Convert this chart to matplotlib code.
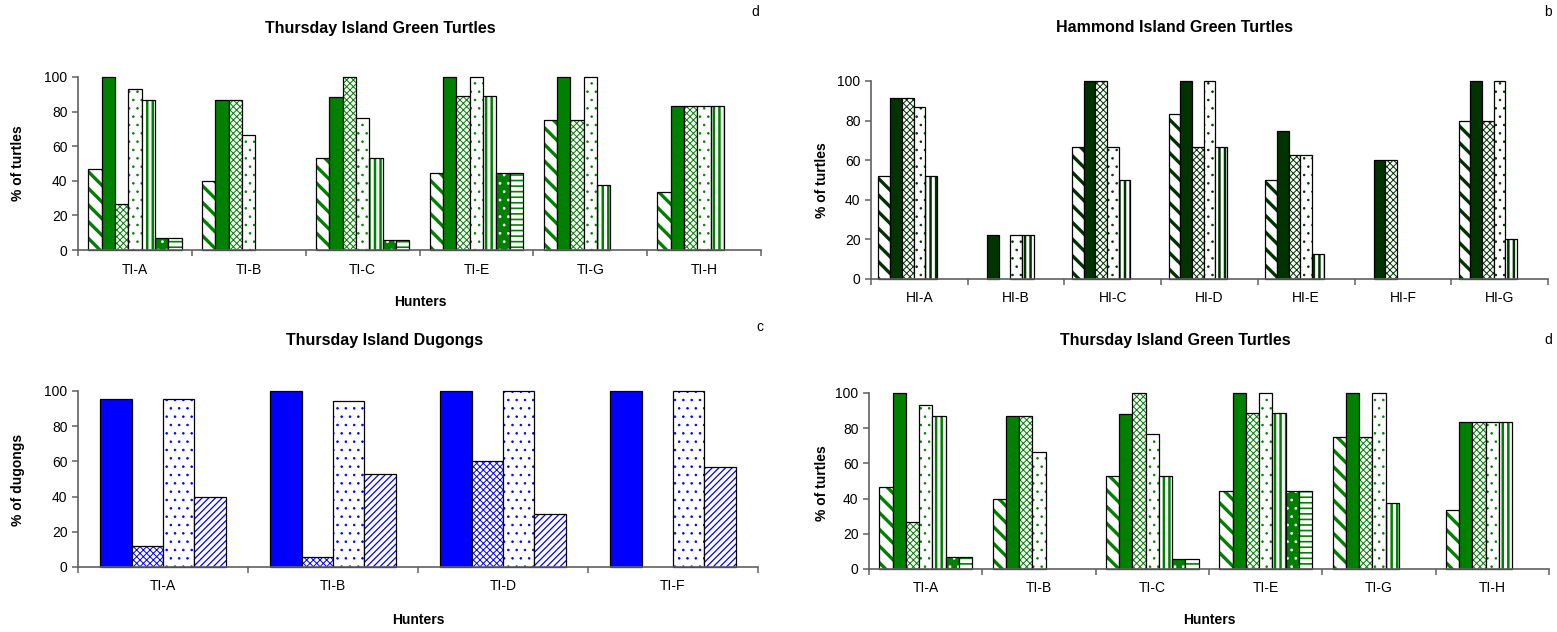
import numpy as np
import matplotlib.pyplot as plt

plt.rcParams['font.family'] = ['Liberation Sans', 'DejaVu Sans']

# Thursday Island green turtles, 7 series per hunter
ti_hunters = ['TI-A', 'TI-B', 'TI-C', 'TI-E', 'TI-G', 'TI-H']
ti_s1 = [46.7, 40, 52.9, 44.4, 75, 33.3]
ti_s2 = [100, 86.7, 88.2, 100, 100, 83.3]
ti_s3 = [26.7, 86.7, 100, 88.9, 75, 83.3]
ti_s4 = [93.3, 66.7, 76.5, 100, 100, 83.3]
ti_s5 = [86.7, 0, 52.9, 88.9, 37.5, 83.3]
ti_s6 = [6.7, 0, 5.9, 44.4, 0, 0]
ti_s7 = [6.7, 0, 5.9, 44.4, 0, 0]

# Hammond Island green turtles
hi_hunters = ['HI-A', 'HI-B', 'HI-C', 'HI-D', 'HI-E', 'HI-F', 'HI-G']
hi_s1 = [52.2, 0, 66.7, 83.3, 50, 0, 80]
hi_s2 = [91.3, 22.2, 100, 100, 75, 60, 100]
hi_s3 = [91.3, 0, 100, 66.7, 62.5, 60, 80]
hi_s4 = [87, 22.2, 66.7, 100, 62.5, 0, 100]
hi_s5 = [52.2, 22.2, 50, 66.7, 12.5, 0, 20]
hi_s6 = [0, 0, 0, 0, 0, 0, 0]
hi_s7 = [0, 0, 0, 0, 0, 0, 0]

# Thursday Island dugongs
du_hunters = ['TI-A', 'TI-B', 'TI-D', 'TI-F']
du_s1 = [95.7, 100, 100, 100]
du_s2 = [12.2, 5.9, 60, 0]
du_s3 = [95.7, 94.1, 100, 100]
du_s4 = [40, 52.9, 30, 57.1]

W, H = 1557, 632
G = '#008000'
DG = '#003300'
B = '#0000ff'
AXC = '#606060'

fig = plt.figure(figsize=(W / 100, H / 100), dpi=100)


def px_axes(x0, x1, ytop, ybot):
    return fig.add_axes([x0 / W, 1 - ybot / H, (x1 - x0) / W, (ybot - ytop) / H])


def px_text(x, y, s, **kw):
    fig.text(x / W, 1 - y / H, s, ha='center', va='center', **kw)


def turtle_styles(c):
    return [
        dict(face='white', hatch='\\\\', hc=c, hlw=2.4),
        dict(face=c, hatch=None, hc=c, hlw=1),
        dict(face='white', hatch='xxxxx', hc=c, hlw=0.7),
        dict(face='white', hatch='..', hc=c, hlw=0.6),
        dict(face='white', hatch='|||', hc=c, hlw=1.8),
        dict(face=c, hatch='..', hc='white', hlw=0.8),
        dict(face='white', hatch='---', hc=c, hlw=1.2),
    ]


dugong_styles = [
    dict(face=B, hatch=None, hc=B, hlw=1),
    dict(face='white', hatch='xxxxx', hc=B, hlw=0.7),
    dict(face='white', hatch='..', hc=B, hlw=0.6),
    dict(face='white', hatch='/////', hc=B, hlw=0.9),
]


def draw_bars(ax, series, styles, bw):
    n = len(series)
    for i, (vals, st) in enumerate(zip(series, styles)):
        v = np.asarray(vals, dtype=float)
        x = np.arange(len(v)) + 0.5 + (i - (n - 1) / 2) * bw
        keep = v > 0
        with plt.rc_context({'hatch.linewidth': st['hlw']}):
            bars = ax.bar(x[keep], v[keep], bw, color=st['face'], edgecolor=st['hc'],
                          hatch=st['hatch'], linewidth=0, clip_on=False)
            for b in bars:
                if hasattr(b, 'set_hatch_linewidth'):
                    b.set_hatch_linewidth(st['hlw'])
        ax.bar(x[keep], v[keep], bw, fill=False, edgecolor='black', linewidth=0.9, clip_on=False)


def style_axes(ax, labels):
    n = len(labels)
    ax.set_xlim(0, n)
    ax.set_ylim(0, 100)
    for s in ['top', 'right']:
        ax.spines[s].set_visible(False)
    for s in ['left', 'bottom']:
        ax.spines[s].set_color(AXC)
        ax.spines[s].set_linewidth(1.2)
    ax.set_yticks(range(0, 101, 20))
    ax.set_xticks(np.arange(n + 1))
    ax.set_xticklabels([])
    ax.set_xticks(np.arange(n) + 0.5, minor=True)
    ax.set_xticklabels(labels, minor=True)
    ax.tick_params(axis='both', which='major', length=4, width=1.1, color=AXC, labelsize=10)
    ax.tick_params(axis='x', which='minor', length=0, pad=9, labelsize=10)
    ax.set_facecolor('none')


# top left: Thursday Island green turtles
ax1 = px_axes(78, 761, 77, 250)
draw_bars(ax1, [ti_s1, ti_s2, ti_s3, ti_s4, ti_s5, ti_s6, ti_s7], turtle_styles(G), 0.117)
style_axes(ax1, ti_hunters)

# top right: Hammond Island green turtles
ax2 = px_axes(871, 1548, 81, 279)
draw_bars(ax2, [hi_s1, hi_s2, hi_s3, hi_s4, hi_s5, hi_s6, hi_s7], turtle_styles(DG), 0.121)
style_axes(ax2, hi_hunters)

# bottom left: Thursday Island dugongs
ax3 = px_axes(78, 758, 391, 567)
draw_bars(ax3, [du_s1, du_s2, du_s3, du_s4], dugong_styles, 0.184)
style_axes(ax3, du_hunters)

# bottom right: Thursday Island green turtles (again)
ax4 = px_axes(869, 1549, 393, 569)
draw_bars(ax4, [ti_s1, ti_s2, ti_s3, ti_s4, ti_s5, ti_s6, ti_s7], turtle_styles(G), 0.117)
style_axes(ax4, ti_hunters)

tkw = dict(fontsize=11.5, fontweight='bold')
px_text(380, 28, 'Thursday Island Green Turtles', **tkw)
px_text(1175, 28, 'Hammond Island Green Turtles', **tkw)
px_text(385, 340, 'Thursday Island Dugongs', **tkw)
px_text(1175, 340, 'Thursday Island Green Turtles', **tkw)

lkw = dict(fontsize=10, fontweight='bold')
px_text(18, 163, '% of turtles', rotation=90, **lkw)
px_text(822, 180, '% of turtles', rotation=90, **lkw)
px_text(18, 480, '% of dugongs', rotation=90, **lkw)
px_text(822, 483, '% of turtles', rotation=90, **lkw)
px_text(420, 302, 'Hunters', **lkw)
px_text(418, 620, 'Hunters', **lkw)
px_text(1209, 620, 'Hunters', **lkw)

ckw = dict(fontsize=10)
px_text(755, 12, 'd', **ckw)
px_text(1548, 12, 'b', **ckw)
px_text(760, 327, 'c', **ckw)
px_text(1548, 340, 'd', **ckw)

fig.savefig('out.png', dpi=100)
